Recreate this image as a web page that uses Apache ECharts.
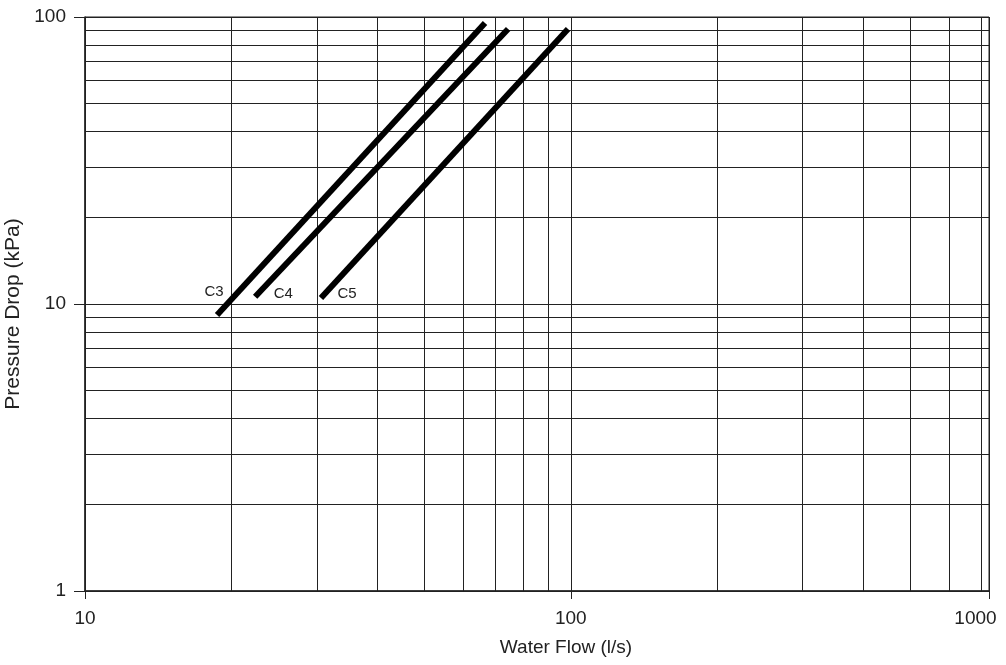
<!DOCTYPE html>
<html>
<head>
<meta charset="utf-8">
<script src="https://cdn.jsdelivr.net/npm/echarts@6/dist/echarts.min.js"></script>
<style>html,body{margin:0;padding:0;background:#fff;}#c{width:1006px;height:665px;}</style>
</head>
<body>
<div id="c"></div>
<script>
// ---- data ----
var seriesNames = ['C3', 'C4', 'C5'];
var c3 = [[18.7, 9.15], [66.6, 95.3]];
var c4 = [[22.4, 10.6], [74.3, 90.8]];
var c5 = [[30.6, 10.5], [98.7, 90.8]];
var xGridValues = [20, 30, 40, 50, 60, 70, 80, 90, 100, 200, 300, 400, 500, 600, 700];
var yGridValues = [2, 3, 4, 5, 6, 7, 8, 9, 10, 20, 30, 40, 50, 60, 70, 80, 90];
var xTickLabels = ['10', '100', '1000'];
var yTickLabels = ['1', '10', '100'];
var xMin = 10, xMax = 726, yMin = 1, yMax = 100;

var FONT = 'Liberation Sans';
var INK = '#222';

var gridMarks = [];
xGridValues.forEach(function (v) { gridMarks.push({ xAxis: v }); });
yGridValues.forEach(function (v) { gridMarks.push({ yAxis: v }); });

function lineSeries(name, data, labelCfg) {
  return {
    name: name,
    type: 'line',
    data: data.map(function (p, i) {
      if (i === 0) {
        return { value: p, label: Object.assign({ show: true, formatter: name, fontFamily: FONT, fontSize: 15, color: INK }, labelCfg) };
      }
      return { value: p };
    }),
    symbol: 'circle',
    symbolSize: 1,
    showSymbol: true,
    showAllSymbol: true,
    itemStyle: { color: 'rgba(0,0,0,0)', borderWidth: 0 },
    label: { show: false },
    lineStyle: { color: '#000', width: 6, cap: 'butt' },
    emphasis: { disabled: true },
    z: 5,
    animation: false
  };
}

var chart = echarts.init(document.getElementById('c'), null, { renderer: 'canvas' });
chart.setOption({
  backgroundColor: '#fff',
  animation: false,
  grid: { left: 85, right: 17, top: 17, bottom: 74, show: true, borderColor: INK, borderWidth: 1, containLabel: false, outerBoundsMode: 'none' },
  xAxis: {
    type: 'log',
    logBase: 10,
    min: xMin,
    max: xMax,
    name: 'Water Flow (l/s)',
    nameLocation: 'middle',
    nameGap: 47,
    nameTextStyle: { fontFamily: FONT, fontSize: 19, color: INK, padding: [0, 0, 0, 58] },
    axisLine: { show: true, lineStyle: { color: INK, width: 1.5 } },
    axisTick: { show: true, length: 8, lineStyle: { color: INK, width: 1 } },
    splitLine: { show: true, lineStyle: { color: INK, width: 1 } },
    axisLabel: {
      show: true,
      margin: 18,
      fontFamily: FONT,
      fontSize: 19,
      color: INK,
      showMinLabel: true,
      showMaxLabel: true,
      formatter: function (v, i) {
        var t = xTickLabels[i] !== undefined ? xTickLabels[i] : String(v);
        return i === 2 ? '{r|' + t + '}' : t;
      },
      rich: { r: { fontFamily: FONT, fontSize: 19, color: INK, padding: [0, 27, 0, 0] } }
    }
  },
  yAxis: {
    type: 'log',
    logBase: 10,
    min: yMin,
    max: yMax,
    name: 'Pressure Drop (kPa)',
    nameLocation: 'middle',
    nameGap: 54,
    nameTextStyle: { fontFamily: FONT, fontSize: 21, color: INK, padding: [0, 20, 0, 0] },
    axisLine: { show: true, lineStyle: { color: INK, width: 1.5 } },
    axisTick: { show: true, length: 11, lineStyle: { color: INK, width: 1 } },
    splitLine: { show: true, lineStyle: { color: INK, width: 1 } },
    axisLabel: {
      show: true,
      margin: 19,
      fontFamily: FONT,
      fontSize: 19,
      color: INK,
      formatter: function (v, i) { return yTickLabels[i] !== undefined ? yTickLabels[i] : String(v); }
    }
  },
  series: [
    {
      name: 'grid',
      type: 'line',
      data: [],
      silent: true,
      z: 1,
      markLine: {
        silent: true,
        symbol: ['none', 'none'],
        animation: false,
        label: { show: false },
        lineStyle: { type: 'solid', color: INK, width: 1 },
        emphasis: { disabled: true },
        data: gridMarks
      }
    },
    lineSeries(seriesNames[0], c3, { position: 'top', distance: 15, offset: [-3, 0] }),
    lineSeries(seriesNames[1], c4, { position: 'right', distance: 18, offset: [0, -3] }),
    lineSeries(seriesNames[2], c5, { position: 'right', distance: 16, offset: [0, -4] })
  ]
});
</script>
</body>
</html>
